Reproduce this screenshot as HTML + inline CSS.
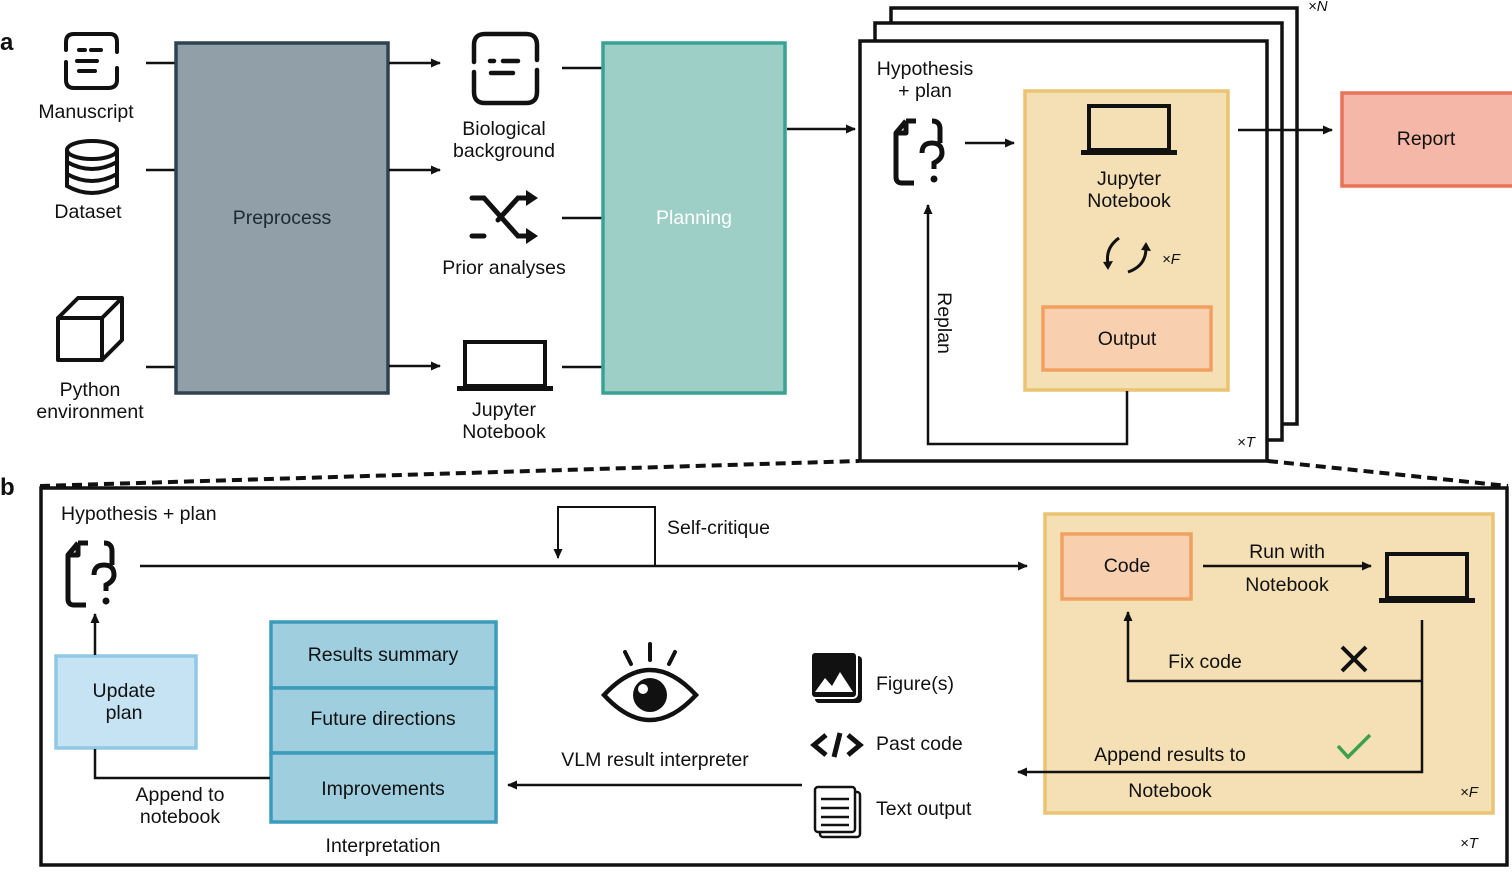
<!DOCTYPE html>
<html><head><meta charset="utf-8"><style>
html,body{margin:0;padding:0;background:#fff;}
svg{display:block;font-family:"Liberation Sans",sans-serif;}
text{font-size:19.5px;fill:#111;}
</style></head><body>
<svg width="1512" height="890" viewBox="0 0 1512 890" xmlns="http://www.w3.org/2000/svg">
<defs>
<marker id="ar" viewBox="0 0 10 10" refX="9" refY="5" markerWidth="11" markerHeight="10" markerUnits="userSpaceOnUse" orient="auto"><path d="M0,0.5 L10,5 L0,9.5 z" fill="#111"/></marker>
<g id="doc"><path d="M14,4 H24 M40,4 Q48,4 48,12 V26 M14,4 L4,16 V60 Q4,66 10,66 H22 M4,16 H14 V4" fill="none" stroke="#111" stroke-width="5" stroke-linejoin="round"/><path d="M30,36 Q30,26 40,26 Q50,26 50,36 Q50,42 42,46 V52" fill="none" stroke="#111" stroke-width="5"/><circle cx="42" cy="62" r="3.5" fill="#111"/></g>
<g id="lap"><rect x="8" y="4" width="80" height="44" fill="none" stroke="#111" stroke-width="4"/><rect x="0" y="48" width="96" height="5" fill="#111"/></g>
</defs>
<text x="0" y="50" style="font-weight:bold;font-size:24px">a</text>
<text x="0" y="495" style="font-weight:bold;font-size:24px">b</text>

<g fill="none" stroke="#111" stroke-width="4" stroke-linecap="round">
<path d="M66,50 V42 Q66,34 74,34 H110 Q117,34 117,42 V52 M66,62 V80 Q66,88 74,88 H108 Q117,88 117,80 V68"/>
<path d="M79,50 H85 M91,50 H101 M77,61 H97 M79,71 H95"/>
<ellipse cx="92" cy="150" rx="25" ry="9"/><path d="M67,150 V186 Q92,200 117,186 V150 M67,162 Q92,176 117,162 M67,174 Q92,188 117,174"/>
<path d="M58,318 L78,298 H122 V340 L102,360 H58 Z M58,318 H102 V360 M102,318 L122,298" stroke-linejoin="round"/>
</g>
<text x="86" y="118" text-anchor="middle">Manuscript</text>
<text x="88" y="218" text-anchor="middle">Dataset</text>
<text x="90" y="396" text-anchor="middle">Python</text>
<text x="90" y="418" text-anchor="middle">environment</text>
<g stroke="#111" stroke-width="2.5"><path d="M146,63 H175 M146,170 H175 M146,367 H175"/></g>
<rect x="176" y="43" width="212" height="350" fill="#909fa8" stroke="#2f4250" stroke-width="3.5"/>
<text x="282" y="224" text-anchor="middle" style="fill:#1c2a33">Preprocess</text>
<g stroke="#111" stroke-width="2.5" marker-end="url(#ar)"><path d="M389,63 H440"/><path d="M389,170 H440"/><path d="M389,366 H440"/></g>

<g fill="none" stroke="#111" stroke-width="4.5" stroke-linecap="round">
<path d="M474,62 V45 Q474,34 485,34 H526 Q537,34 537,45 V60 M474,72 V92 Q474,103 485,103 H526 Q537,103 537,92 V70"/>
<path d="M490,61 H494 M503,61 H518 M491,73 H513"/>
<path d="M472,198 H484 L518,236 H530 M472,236 H484 M498,220 L518,198 H530" stroke-width="5"/>
</g>
<path d="M526,190 L538,198 L526,206 Z M526,228 L538,236 L526,244 Z" fill="#111"/>
<text x="504" y="135" text-anchor="middle">Biological</text>
<text x="504" y="157" text-anchor="middle">background</text>
<text x="504" y="274" text-anchor="middle">Prior analyses</text>
<use href="#lap" x="457" y="338"/>
<text x="504" y="416" text-anchor="middle">Jupyter</text>
<text x="504" y="438" text-anchor="middle">Notebook</text>
<g stroke="#111" stroke-width="2.5"><path d="M562,68 H602 M562,218 H602 M562,367 H602"/></g>
<rect x="603" y="43" width="182" height="350" fill="#9ecfc7" stroke="#3aa294" stroke-width="3.5"/>
<text x="694" y="224" text-anchor="middle" style="fill:#fff">Planning</text>
<path d="M787,129 H855" stroke="#111" stroke-width="2.5" marker-end="url(#ar)"/>

<rect x="891" y="8" width="406" height="416" fill="#fff" stroke="#111" stroke-width="3.5"/>
<rect x="875" y="23" width="407" height="417" fill="#fff" stroke="#111" stroke-width="3.5"/>
<rect x="860" y="41" width="407" height="420" fill="#fff" stroke="#111" stroke-width="3.5"/>
<text x="1308" y="11" style="font-size:15px;font-style:italic">×N</text>
<text x="925" y="75" text-anchor="middle">Hypothesis</text>
<text x="925" y="97" text-anchor="middle">+ plan</text>
<use href="#doc" x="892" y="117"/>
<path d="M965,143 H1014" stroke="#111" stroke-width="2.5" marker-end="url(#ar)"/>
<rect x="1025" y="91" width="203" height="299" fill="#f5e0b5" stroke="#eac472" stroke-width="3.5"/>
<use href="#lap" x="1081" y="102"/>
<text x="1129" y="185" text-anchor="middle">Jupyter</text>
<text x="1129" y="207" text-anchor="middle">Notebook</text>
<g fill="none" stroke="#111" stroke-width="3"><path d="M1119,238 Q1105,248 1108,264"/><path d="M1128,272 Q1146,266 1146,248"/></g>
<path d="M1103,262 L1108,270 L1113,261 Z M1141,250 L1146,242 L1151,251 Z" fill="#111"/>
<text x="1162" y="264" style="font-size:15px;font-style:italic">×F</text>
<rect x="1043" y="307" width="168" height="63" fill="#f8d0b0" stroke="#f0a060" stroke-width="3.5"/>
<text x="1127" y="345" text-anchor="middle">Output</text>
<path d="M1127,391 V444 H928 V205" fill="none" stroke="#111" stroke-width="2.5" marker-end="url(#ar)"/>
<text transform="translate(938,323) rotate(90)" text-anchor="middle">Replan</text>
<text x="1237" y="447" style="font-size:15px;font-style:italic">×T</text>
<path d="M1238,130 H1332" stroke="#111" stroke-width="2.5" marker-end="url(#ar)"/>
<rect x="1342" y="93" width="172" height="93" fill="#f4b7a8" stroke="#e8735a" stroke-width="3.5"/>
<text x="1426" y="145" text-anchor="middle">Report</text>

<g stroke="#111" stroke-width="4" stroke-dasharray="10,6"><path d="M40,486 L859,461"/><path d="M1268,461 L1508,486"/></g>
<rect x="41" y="488" width="1466" height="377" fill="none" stroke="#111" stroke-width="3.5"/>

<text x="61" y="520">Hypothesis + plan</text>
<use href="#doc" x="64" y="539"/>
<path d="M140,566 H1027" stroke="#111" stroke-width="2.5" marker-end="url(#ar)"/>
<path d="M655,566 V507 H558 V558" fill="none" stroke="#111" stroke-width="2" marker-end="url(#ar)"/>
<text x="667" y="534">Self-critique</text>

<rect x="1045" y="514" width="448" height="299" fill="#f5e0b5" stroke="#eac472" stroke-width="3.5"/>
<rect x="1062" y="534" width="129" height="65" fill="#f8d0b0" stroke="#f0a060" stroke-width="3.5"/>
<text x="1127" y="572" text-anchor="middle">Code</text>
<path d="M1203,566 H1371" stroke="#111" stroke-width="2.5" marker-end="url(#ar)"/>
<text x="1287" y="558" text-anchor="middle">Run with</text>
<text x="1287" y="591" text-anchor="middle">Notebook</text>
<use href="#lap" x="1379" y="550"/>
<path d="M1422,620 V772 H1018" fill="none" stroke="#111" stroke-width="2.5" marker-end="url(#ar)"/>
<path d="M1422,681 H1128 V612" fill="none" stroke="#111" stroke-width="2.5" marker-end="url(#ar)"/>
<text x="1205" y="668" text-anchor="middle">Fix code</text>
<path d="M1342,647 L1366,671 M1366,647 L1342,671" stroke="#111" stroke-width="4"/>
<path d="M1338,746 L1348,757 L1370,735" fill="none" stroke="#3aa04a" stroke-width="3.5"/>
<text x="1170" y="761" text-anchor="middle">Append results to</text>
<text x="1170" y="797" text-anchor="middle">Notebook</text>
<text x="1460" y="797" style="font-size:15px;font-style:italic">×F</text>
<text x="1460" y="848" style="font-size:15px;font-style:italic">×T</text>

<rect x="815" y="656" width="47" height="47" rx="4" fill="#111"/>
<rect x="811" y="652" width="46" height="46" rx="4" fill="#111" stroke="#fff" stroke-width="2"/>
<path d="M815,692 L825,678 L832,686 L840,672 L853,692 Z" fill="#fff"/>
<text x="876" y="690">Figure(s)</text>
<path d="M826,735 L814,745 L826,755 M848,735 L860,745 L848,755 M840,733 L834,757" fill="none" stroke="#111" stroke-width="5"/>
<text x="876" y="750">Past code</text>
<rect x="820" y="792" width="40" height="45" rx="3" fill="#fff" stroke="#111" stroke-width="2.5"/>
<rect x="815" y="787" width="40" height="45" rx="3" fill="#fff" stroke="#111" stroke-width="2.5"/>
<path d="M821,799 H849 M821,808 H849 M821,817 H849 M821,825 H849" stroke="#111" stroke-width="2.5"/>
<text x="876" y="815">Text output</text>
<path d="M802,785 H508" stroke="#111" stroke-width="2.5" marker-end="url(#ar)"/>
<path d="M604,695 Q650,645 696,695 Q650,745 604,695 Z" fill="#fff" stroke="#111" stroke-width="4.5"/>
<circle cx="650" cy="695" r="17" fill="#111"/>
<circle cx="643" cy="689" r="5" fill="#fff"/>
<path d="M650,644 V660 M625,652 L631,664 M675,652 L669,664" stroke="#111" stroke-width="4" stroke-linecap="round"/>
<text x="655" y="766" text-anchor="middle">VLM result interpreter</text>

<g fill="#9fcfdf" stroke="#3a9bba" stroke-width="3.5">
<rect x="271" y="622" width="225" height="66"/>
<rect x="271" y="688" width="225" height="65"/>
<rect x="271" y="753" width="225" height="69"/>
</g>
<text x="383" y="661" text-anchor="middle">Results summary</text>
<text x="383" y="725" text-anchor="middle">Future directions</text>
<text x="383" y="795" text-anchor="middle">Improvements</text>
<text x="383" y="852" text-anchor="middle">Interpretation</text>
<rect x="56" y="656" width="140" height="92" fill="#c5e3f3" stroke="#90c8e5" stroke-width="3.5"/>
<text x="124" y="697" text-anchor="middle">Update</text>
<text x="124" y="719" text-anchor="middle">plan</text>
<path d="M95,655 V614" stroke="#111" stroke-width="2.5" marker-end="url(#ar)"/>
<path d="M95,749 V778 H270" fill="none" stroke="#111" stroke-width="2.5"/>
<text x="180" y="801" text-anchor="middle">Append to</text>
<text x="180" y="823" text-anchor="middle">notebook</text>
</svg>
</body></html>
